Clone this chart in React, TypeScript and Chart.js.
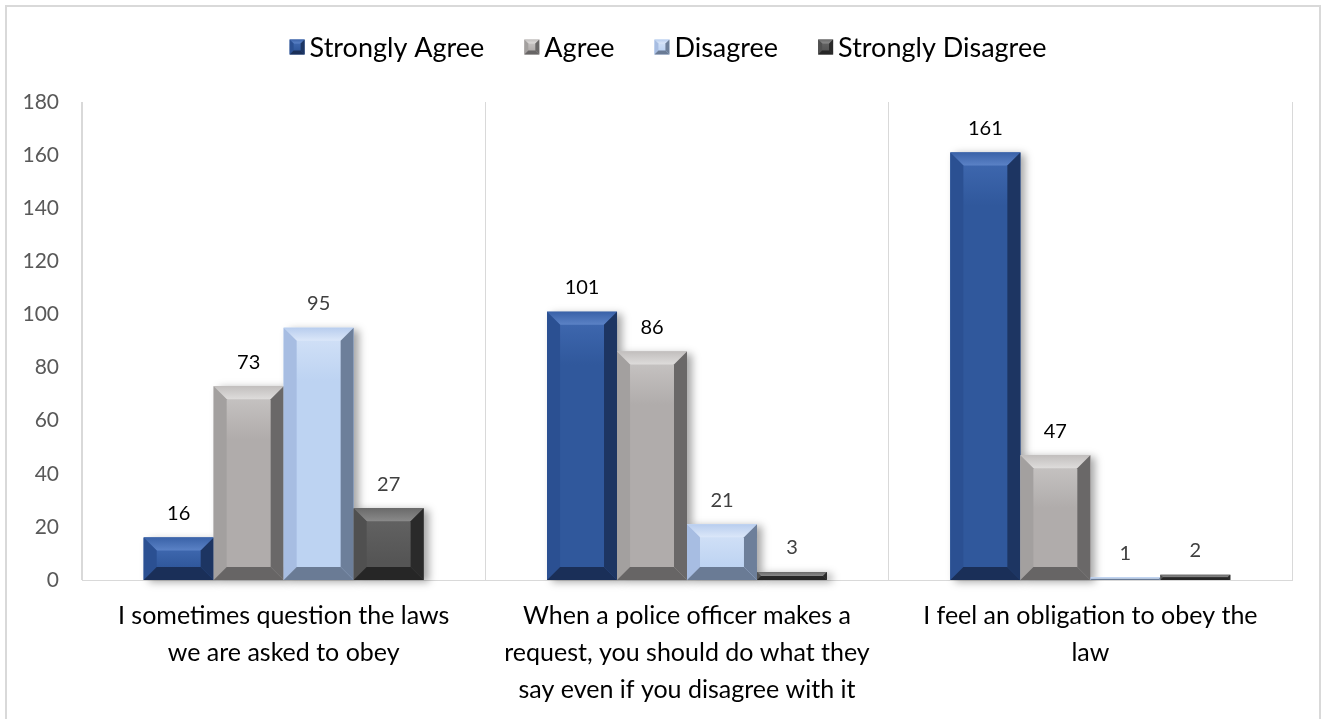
import React, { useEffect, useRef } from "react";
import { Chart, registerables } from "chart.js";

Chart.register(...registerables);

const categories: string[][] = [
  ["I sometimes question the laws", "we are asked to obey"],
  ["When a police officer makes a", "request, you should do what they", "say even if you disagree with it"],
  ["I feel an obligation to obey the", "law"],
];

const seriesNames = ["Strongly Agree", "Agree", "Disagree", "Strongly Disagree"];
const stronglyAgree = [16, 101, 161];
const agree = [73, 86, 47];
const disagree = [95, 21, 1];
const stronglyDisagree = [27, 3, 2];

const yTicksMin = 0;
const yTicksMax = 180;
const yTicksStep = 20;

const FONT = "Lato, 'Open Sans', sans-serif";

type Shade = { face: string; faceHi: string; top: string; topHi: string; left: string; right: string; bottom: string; label: string };

const shades: Shade[] = [
  { face: "#30589c", faceHi: "#3d66ad", top: "#3a62a8", topHi: "#5b82c6", left: "#2b5092", right: "#1d3562", bottom: "#1a2f58", label: "#000000" },
  { face: "#b0acab", faceHi: "#c4c1c0", top: "#c2bfbe", topHi: "#dedcdb", left: "#a3a09f", right: "#6a6868", bottom: "#676565", label: "#000000" },
  { face: "#bdd3f2", faceHi: "#cfdff6", top: "#b8cdee", topHi: "#dbe7f9", left: "#a7bde2", right: "#6d7f9a", bottom: "#6a7b95", label: "#404040" },
  { face: "#555555", faceHi: "#616161", top: "#6a6a6a", topHi: "#8a8a8a", left: "#505050", right: "#2a2a2a", bottom: "#262626", label: "#404040" },
];

function poly(ctx: CanvasRenderingContext2D, pts: number[][], fill: string | CanvasGradient) {
  ctx.beginPath();
  ctx.moveTo(pts[0][0], pts[0][1]);
  for (let i = 1; i < pts.length; i++) ctx.lineTo(pts[i][0], pts[i][1]);
  ctx.closePath();
  ctx.fillStyle = fill;
  ctx.fill();
}

function bevelRect(ctx: CanvasRenderingContext2D, x0: number, y0: number, x1: number, y1: number, maxB: number, s: Shade) {
  const w = x1 - x0;
  const h = y1 - y0;
  if (w <= 0 || h <= 0) return;
  const b = Math.max(0, Math.min(maxB, w / 2, h / 2));
  // inner face with a soft highlight under the top edge
  const fg = ctx.createLinearGradient(0, y0 + b, 0, Math.min(y1 - b, y0 + b + 40));
  fg.addColorStop(0, s.faceHi);
  fg.addColorStop(1, s.face);
  ctx.fillStyle = fg;
  ctx.fillRect(x0, y0, w, h);
  const tg = ctx.createLinearGradient(0, y0, 0, y0 + b);
  tg.addColorStop(0, s.top);
  tg.addColorStop(1, s.topHi);
  poly(ctx, [[x0, y0], [x1, y0], [x1 - b, y0 + b], [x0 + b, y0 + b]], tg);
  poly(ctx, [[x0, y0], [x0 + b, y0 + b], [x0 + b, y1 - b], [x0, y1]], s.left);
  poly(ctx, [[x1, y0], [x1 - b, y0 + b], [x1 - b, y1 - b], [x1, y1]], s.right);
  poly(ctx, [[x0, y1], [x1, y1], [x1 - b, y1 - b], [x0 + b, y1 - b]], s.bottom);
}

const framePlugin = {
  id: "frame",
  beforeDraw(chart: any) {
    const ctx = chart.ctx;
    ctx.save();
    ctx.fillStyle = "#ffffff";
    ctx.fillRect(0, 0, chart.width, chart.height);
    ctx.strokeStyle = "#d9d9d9";
    ctx.lineWidth = 2;
    ctx.strokeRect(6, 6, 1314, chart.height + 40);
    ctx.restore();
  },
};

const bevelPlugin = {
  id: "bevelBars",
  beforeDatasetsDraw(chart: any) {
    const ctx = chart.ctx;
    ctx.save();
    chart.data.datasets.forEach((_: any, di: number) => {
      const meta = chart.getDatasetMeta(di);
      meta.data.forEach((bar: any) => {
        const { x, y, base, width } = bar.getProps(["x", "y", "base", "width"], true);
        const h = base - y;
        if (h < 6) return;
        ctx.shadowColor = "rgba(0,0,0,0.35)";
        ctx.shadowBlur = 8;
        ctx.shadowOffsetX = 5;
        ctx.shadowOffsetY = 2;
        ctx.fillStyle = "#ffffff";
        ctx.fillRect(x - width / 2, y, width, h);
      });
    });
    ctx.restore();
  },
  afterDatasetsDraw(chart: any) {
    const ctx = chart.ctx;
    ctx.save();
    chart.data.datasets.forEach((ds: any, di: number) => {
      const meta = chart.getDatasetMeta(di);
      const s = shades[di];
      meta.data.forEach((bar: any, i: number) => {
        const { x, y, base, width } = bar.getProps(["x", "y", "base", "width"], true);
        bevelRect(ctx, x - width / 2, y, x + width / 2, base, 13, s);
        ctx.fillStyle = s.label;
        ctx.font = `20px ${FONT}`;
        ctx.textAlign = "center";
        ctx.textBaseline = "middle";
        ctx.fillText(String(ds.data[i]), x, y - 24);
      });
    });
    ctx.restore();
  },
  afterDraw(chart: any) {
    // legend row
    const ctx = chart.ctx;
    ctx.save();
    ctx.font = `27px ${FONT}`;
    ctx.textBaseline = "middle";
    ctx.textAlign = "left";
    const box = 15;
    const gapBoxText = 5;
    const gapItems = 40;
    const widths = seriesNames.map((n) => box + gapBoxText + ctx.measureText(n).width);
    const total = widths.reduce((a, b) => a + b, 0) + gapItems * (seriesNames.length - 1);
    let x = 668 - total / 2;
    const cy = 47;
    seriesNames.forEach((n, i) => {
      bevelRect(ctx, x, cy - box / 2, x + box, cy + box / 2, 4, shades[i]);
      ctx.fillStyle = "#000000";
      ctx.fillText(n, x + box + gapBoxText, cy + 1);
      x += widths[i] + gapItems;
    });
    ctx.restore();
  },
};

export default function App() {
  const ref = useRef<HTMLCanvasElement | null>(null);

  useEffect(() => {
    if (!ref.current) return;
    const series = [stronglyAgree, agree, disagree, stronglyDisagree];
    const chart = new Chart(ref.current, {
      type: "bar",
      data: {
        labels: categories,
        datasets: series.map((d, i) => ({
          label: seriesNames[i],
          data: d,
          backgroundColor: shades[i].face,
          borderWidth: 0,
          categoryPercentage: 0.694,
          barPercentage: 1,
        })),
      },
      options: {
        animation: false,
        responsive: true,
        maintainAspectRatio: false,
        layout: { padding: { top: 102, right: 29, left: 0, bottom: 0 } },
        plugins: {
          legend: { display: false },
          tooltip: { enabled: false },
        },
        scales: {
          x: {
            grid: { display: true, color: "#d9d9d9", lineWidth: 1, drawTicks: false, offset: true },
            border: { display: true, color: "#d9d9d9", width: 1 },
            ticks: {
              color: "#000000",
              font: { family: FONT, size: 25, lineHeight: 1.47 },
              padding: 18,
              maxRotation: 0,
              autoSkip: false,
            },
            afterFit(scale: any) {
              scale.height = 139;
            },
          },
          y: {
            min: yTicksMin,
            max: yTicksMax,
            grid: { display: false, drawTicks: false },
            border: { display: true, color: "#d9d9d9", width: 1 },
            ticks: {
              stepSize: yTicksStep,
              color: "#595959",
              font: { family: FONT, size: 21 },
              padding: 23,
            },
            afterFit(scale: any) {
              scale.width = 82;
            },
          },
        },
      },
      plugins: [framePlugin, bevelPlugin],
    });
    return () => chart.destroy();
  }, []);

  return (
    <div style={{ position: "fixed", left: 0, top: 0, width: 1321, height: 719, background: "#fff" }}>
      <canvas ref={ref} />
    </div>
  );
}
